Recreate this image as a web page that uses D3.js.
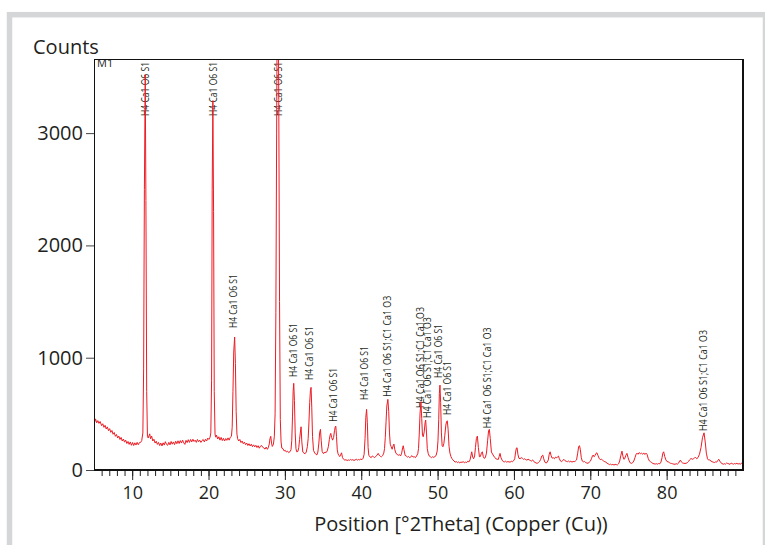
<!DOCTYPE html>
<html lang="en">

<head>
    <meta charset="UTF-8">
    <title>M1 XRD</title>
    <script src="https://cdn.jsdelivr.net/npm/d3@7/dist/d3.min.js"></script>
    <style>
        body { margin: 0; background: #fff; }
        text { font-family: 'Open Sans', sans-serif; fill: #231f20; }
    </style>
</head>

<body>
    <svg width="765" height="545" id="mainsvg"></svg>
    <script>
        // scan: position (deg 2theta) and counts
        const twoTheta = [
            5.0, 5.1, 5.2, 5.35, 5.5, 5.65, 5.8, 6.0, 6.15, 6.3, 6.45, 6.6, 6.75, 6.9, 7.05, 7.2, 7.35, 7.5, 7.65, 7.8,
            7.95, 8.1, 8.25, 8.4, 8.55, 8.7, 8.85, 9.0, 9.15, 9.3, 9.45, 9.6, 9.75, 9.9, 10.05, 10.2, 10.35, 10.5, 10.65, 10.8, 10.95,
            11.1, 11.25, 11.4, 11.5, 11.6, 11.71, 11.8, 11.9, 12.0,
            12.1, 12.2, 12.3, 12.4, 12.55, 12.7, 12.85, 13.0, 13.15, 13.3, 13.45, 13.6, 13.75, 13.9, 14.05, 14.2, 14.35, 14.5, 14.65, 14.8,
            14.95, 15.1, 15.25, 15.4, 15.55, 15.7, 15.85, 16.0, 16.15, 16.3, 16.45, 16.6, 16.75, 16.9, 17.05, 17.2, 17.35, 17.5, 17.65, 17.8,
            17.95, 18.1, 18.25, 18.4, 18.55, 18.7, 18.85, 19.0, 19.15, 19.3, 19.45, 19.6, 19.75, 19.9, 20.05, 20.2,
            20.3, 20.4, 20.48, 20.57, 20.66, 20.75, 20.85,
            20.95, 21.05, 21.2, 21.35, 21.5, 21.65, 21.8, 21.95, 22.1, 22.25, 22.4, 22.55, 22.7, 22.85, 23.0,
            23.1, 23.2, 23.3, 23.42, 23.52, 23.62, 23.72,
            23.82, 23.95, 24.1, 24.25, 24.4, 24.55, 24.7, 24.85, 25.0, 25.15, 25.3, 25.45, 25.6, 25.75, 25.9, 26.05, 26.2, 26.35, 26.5, 26.65,
            26.8, 26.95, 27.1, 27.25, 27.4, 27.55, 27.7, 27.82, 27.95, 28.05, 28.15, 28.25, 28.35, 28.5, 28.62, 28.72,
            28.82, 28.92, 29.0, 29.1, 29.2, 29.3, 29.4,
            29.5, 29.6, 29.75, 29.9, 30.05, 30.2, 30.35, 30.5, 30.65, 30.8, 30.9, 31.0, 31.08, 31.16, 31.25, 31.35, 31.45, 31.55,
            31.7, 31.82, 31.92, 32.02, 32.12, 32.22, 32.35, 32.5, 32.65, 32.8, 32.95, 33.05, 33.15, 33.25, 33.35, 33.43, 33.52, 33.62, 33.75, 33.9, 34.05, 34.2,
            34.32, 34.45, 34.55, 34.66, 34.76, 34.88, 35.0, 35.12, 35.25, 35.4, 35.55, 35.7, 35.82, 35.92, 36.01, 36.12, 36.25, 36.38, 36.5, 36.6, 36.67, 36.76, 36.86, 36.96,
            37.08, 37.2, 37.3, 37.42, 37.55, 37.7, 37.85, 38.0, 38.15, 38.3, 38.45, 38.6, 38.75, 38.9, 39.05, 39.2, 39.35, 39.5, 39.65, 39.8, 39.95, 40.1, 40.25,
            40.38, 40.5, 40.6, 40.7, 40.8, 40.9, 41.0,
            41.15, 41.3, 41.45, 41.6, 41.75, 41.9, 42.05, 42.22, 42.35, 42.5, 42.65, 42.8, 42.95,
            43.05, 43.15, 43.25, 43.35, 43.49, 43.6, 43.7, 43.8, 43.92, 44.05, 44.18, 44.28, 44.4, 44.55, 44.7, 44.85, 45.0, 45.15, 45.3, 45.42, 45.5, 45.6, 45.75, 45.9,
            46.05, 46.2, 46.35, 46.5, 46.65, 46.8, 46.95, 47.1, 47.25, 47.4,
            47.5, 47.6, 47.7, 47.82, 47.92, 48.02, 48.12, 48.25, 48.36, 48.44, 48.55, 48.65, 48.78,
            48.9, 49.05, 49.2, 49.35, 49.5, 49.65, 49.8, 49.95,
            50.05, 50.15, 50.23, 50.31, 50.4, 50.5, 50.6, 50.7, 50.82, 50.95, 51.08, 51.18, 51.27, 51.38, 51.5, 51.62, 51.75, 51.88,
            52.0, 52.15, 52.3, 52.45, 52.6, 52.75, 52.9, 53.05, 53.2, 53.35, 53.5, 53.65, 53.8, 53.95, 54.1, 54.25, 54.36, 54.47, 54.6, 54.72,
            54.85, 54.96, 55.08, 55.21, 55.34, 55.48, 55.6, 55.74, 55.86, 55.98, 56.1, 56.25, 56.4, 56.55, 56.68, 56.78, 56.9, 57.05, 57.2, 57.35,
            57.5, 57.65, 57.8, 57.95, 58.06, 58.18, 58.3, 58.45, 58.6, 58.75, 58.9, 59.05, 59.2, 59.35, 59.5, 59.65, 59.8, 59.95,
            60.1, 60.22, 60.32, 60.41, 60.52, 60.65, 60.8, 60.95, 61.1, 61.25, 61.4, 61.55, 61.7, 61.85, 62.0, 62.15, 62.3, 62.45, 62.6, 62.75,
            62.9, 63.05, 63.2, 63.35, 63.5, 63.65, 63.78, 63.9, 64.05, 64.2, 64.35, 64.5, 64.62, 64.74, 64.86, 65.0, 65.15, 65.3, 65.45, 65.6,
            65.72, 65.83, 65.95, 66.1, 66.25, 66.4, 66.55, 66.7, 66.85, 67.0, 67.15, 67.3, 67.45, 67.6, 67.75, 67.9, 68.05, 68.2, 68.35, 68.48,
            68.59, 68.7, 68.82, 68.95, 69.1, 69.25, 69.4, 69.55, 69.7, 69.85,
            70.0, 70.15, 70.28, 70.38, 70.5, 70.62, 70.75, 70.87, 71.0, 71.15, 71.3, 71.45, 71.6, 71.75, 71.9, 72.05, 72.2, 72.35, 72.5, 72.65,
            72.8, 72.95, 73.1, 73.25, 73.4, 73.55, 73.7, 73.85, 74.0, 74.15, 74.28, 74.4, 74.5, 74.65, 74.8, 74.95, 75.1, 75.25, 75.4, 75.55,
            75.7, 75.85, 76.0, 76.11, 76.25, 76.4, 76.55, 76.7, 76.85, 77.0, 77.15, 77.3, 77.43, 77.6, 77.75, 77.9, 78.05, 78.2, 78.35, 78.5,
            78.65, 78.8, 78.95, 79.1, 79.25, 79.4, 79.5, 79.61, 79.75, 79.9,
            80.05, 80.2, 80.35, 80.5, 80.65, 80.8, 80.95, 81.1, 81.25, 81.4, 81.55, 81.7, 81.8, 81.95, 82.1, 82.25, 82.4, 82.55, 82.7, 82.85,
            83.0, 83.2, 83.35, 83.5, 83.65, 83.8, 83.95, 84.1, 84.3, 84.5, 84.7, 84.9, 85.05, 85.2, 85.35, 85.5, 85.65, 85.8, 85.95, 86.1,
            86.25, 86.4, 86.55, 86.7, 86.82, 86.95, 87.1, 87.25, 87.4, 87.55, 87.7, 87.85, 88.0, 88.15, 88.3, 88.45, 88.6, 88.75, 88.9, 89.05,
            89.2, 89.35, 89.5, 89.65, 89.8, 90.0
        ];
        const counts = [
            465, 430, 455, 420, 440, 415, 432, 395, 412, 380, 398, 365, 384, 350, 368, 335, 352, 318, 334, 300,
            316, 285, 302, 272, 290, 258, 276, 248, 266, 236, 254, 228, 250, 220, 245, 218, 242, 222, 246, 225, 244,
            245, 262, 330, 900, 2500, 3520, 2400, 700, 300,
            285, 305, 322, 278, 302, 258, 274, 240, 256, 228, 246, 218, 240, 214, 242, 222, 252, 228, 220, 246,
            224, 254, 230, 250, 226, 256, 234, 260, 236, 262, 240, 266, 242, 228, 264, 244, 270, 246, 272, 250,
            274, 254, 266, 246, 272, 252, 266, 246, 262, 272, 250, 274, 258, 284, 272, 292,
            330, 800, 2500, 3290, 2300, 700, 320,
            292, 310, 276, 296, 266, 290, 262, 282, 258, 280, 264, 286, 266, 292, 300,
            380, 700, 1050, 1184, 950, 520, 320,
            278, 258, 272, 244, 258, 234, 248, 226, 240, 218, 234, 214, 230, 208, 224, 206, 220, 200, 216, 194,
            212, 218, 202, 196, 186, 204, 184, 198, 230, 280, 300, 240, 210, 230, 300, 500,
            1400, 3000, 4200, 4400, 3300, 1500, 450,
            250, 195, 190, 170, 175, 160, 168, 155, 162, 180, 260, 480, 700, 772, 620, 330, 190, 162,
            165, 200, 270, 330, 385, 250, 160, 150, 145, 160, 210, 280, 420, 600, 710, 736, 560, 300, 175, 152, 140, 135,
            160, 240, 330, 362, 260, 165, 150, 148, 160, 155, 170, 210, 270, 310, 326, 290, 266, 290, 350, 385, 391, 300, 180, 145,
            128, 120, 135, 153, 110, 95, 88, 92, 84, 90, 86, 94, 88, 92, 85, 90, 96, 88, 94, 90, 98, 92, 105,
            140, 280, 470, 540, 420, 200, 128,
            118, 110, 125, 118, 110, 122, 130, 148, 132, 122, 118, 128, 150,
            190, 290, 430, 570, 629, 520, 330, 230, 207, 185, 215, 231, 180, 148, 140, 130, 138, 125, 150, 200, 216, 180, 130, 124,
            115, 120, 110, 118, 128, 115, 118, 110, 125, 145,
            190, 320, 500, 608, 460, 310, 296, 340, 420, 445, 330, 190, 145,
            125, 118, 110, 118, 112, 120, 128, 170,
            260, 450, 680, 756, 600, 330, 215, 207, 235, 310, 400, 432, 438, 360, 210, 150, 120, 100,
            92, 80, 70, 75, 66, 72, 64, 70, 68, 74, 65, 70, 66, 78, 72, 90, 125, 162, 115, 100,
            125, 200, 280, 302, 200, 118, 120, 150, 162, 120, 104, 110, 150, 260, 350, 362, 280, 160, 142, 125,
            110, 100, 96, 94, 120, 148, 110, 88, 75, 72, 78, 70, 75, 72, 70, 78, 74, 82,
            100, 160, 195, 198, 140, 105, 100, 110, 105, 95, 100, 92, 88, 96, 90, 85, 80, 90, 75, 68,
            62, 60, 65, 75, 95, 125, 133, 100, 70, 62, 68, 90, 140, 162, 130, 105, 110, 100, 115, 108,
            118, 124, 100, 80, 75, 85, 95, 82, 78, 74, 80, 72, 78, 70, 76, 74, 80, 90, 150, 210,
            216, 180, 110, 80, 73, 76, 66, 62, 60, 68,
            78, 100, 125, 133, 118, 130, 148, 153, 130, 105, 92, 96, 88, 80, 74, 70, 60, 55, 48, 52,
            46, 50, 44, 50, 48, 45, 55, 80, 130, 168, 120, 95, 100, 130, 148, 110, 80, 62, 59, 65,
            80, 110, 140, 150, 140, 155, 145, 150, 140, 152, 138, 150, 140, 100, 80, 73, 66, 58, 55, 53,
            56, 52, 58, 55, 70, 110, 150, 162, 120, 90,
            75, 73, 66, 60, 58, 55, 52, 51, 56, 52, 60, 80, 88, 70, 62, 60, 58, 60, 65, 75,
            90, 103, 95, 100, 108, 112, 100, 110, 140, 200, 290, 331, 250, 150, 100, 88, 90, 80, 74, 70,
            66, 72, 70, 85, 96, 80, 65, 58, 51, 56, 52, 62, 58, 55, 50, 62, 56, 52, 58, 54,
            60, 52, 58, 50, 62, 56
        ];

        // phase labels: where they sit (2theta) and the count level they start from
        const labelPos = [11.71, 20.57, 29.1, 23.2, 31.07, 33.17, 36.24, 40.38, 43.32, 47.69, 48.57, 50.09, 51.19, 56.52, 84.72];
        const labelAt = [3153, 3153, 3153, 1264, 828, 801, 429, 623, 652, 552, 462, 819, 489, 371, 347];
        const labelText = [
            'H4 Ca1 O6 S1', 'H4 Ca1 O6 S1', 'H4 Ca1 O6 S1', 'H4 Ca1 O6 S1', 'H4 Ca1 O6 S1',
            'H4 Ca1 O6 S1', 'H4 Ca1 O6 S1', 'H4 Ca1 O6 S1', 'H4 Ca1 O6 S1;C1 Ca1 O3', 'H4 Ca1 O6 S1;C1 Ca1 O3',
            'H4 Ca1 O6 S1;C1 Ca1 O3', 'H4 Ca1 O6 S1', 'H4 Ca1 O6 S1', 'H4 Ca1 O6 S1;C1 Ca1 O3', 'H4 Ca1 O6 S1;C1 Ca1 O3'
        ];

        const yTicks = [0, 1000, 2000, 3000];
        const xTicks = [10, 20, 30, 40, 50, 60, 70, 80];
        const xMinor = d3.range(6, 90);

        if (twoTheta.length !== counts.length) console.warn('length mismatch', twoTheta.length, counts.length);

        const svg = d3.select('#mainsvg');
        const width = +svg.attr('width');
        const height = +svg.attr('height');
        const margin = { top: 59, right: 22, bottom: 75, left: 94 };
        const innerWidth = width - margin.left - margin.right;
        const innerHeight = height - margin.top - margin.bottom;

        // grey outer frame
        svg.append('rect')
            .attr('x', 9.5).attr('y', 14.7)
            .attr('width', 756).attr('height', 600)
            .attr('fill', 'none')
            .attr('stroke', '#d5d6d8')
            .attr('stroke-width', 5.5);

        svg.append('text').text('Counts')
            .attr('x', 33).attr('y', 54)
            .attr('font-size', '20px');

        const g = svg.append('g')
            .attr('transform', `translate(${margin.left},${margin.top})`);

        const x = d3.scaleLinear().domain([5, 90]).range([0, innerWidth]);
        const y = d3.scaleLinear().domain([0, 3660]).range([innerHeight, 0]);

        g.append('clipPath').attr('id', 'plotclip')
            .append('rect').attr('width', innerWidth).attr('height', innerHeight);

        // axes
        const yAxis = d3.axisLeft(y).tickValues(yTicks).tickSize(8).tickPadding(3).tickFormat(d3.format('d'));
        const yg = g.append('g').call(yAxis);
        yg.select('.domain').remove();
        yg.selectAll('line').attr('stroke', '#444');
        yg.selectAll('text').attr('font-size', '20px').attr('font-family', null).attr('fill', '#231f20');

        const minorAxis = d3.axisBottom(x).tickValues(xMinor).tickSize(6).tickFormat('');
        const mg = g.append('g').attr('transform', `translate(0,${innerHeight})`).call(minorAxis);
        mg.select('.domain').remove();
        mg.selectAll('line').attr('stroke', '#222');

        const xAxis = d3.axisBottom(x).tickValues(xTicks).tickSize(10).tickPadding(6);
        const xg = g.append('g').attr('transform', `translate(0,${innerHeight})`).call(xAxis);
        xg.select('.domain').remove();
        xg.selectAll('line').attr('stroke', '#222');
        xg.selectAll('text').attr('font-size', '18px').attr('font-family', null).attr('fill', '#231f20');

        svg.append('text').text('Position [°2Theta] (Copper (Cu))')
            .attr('x', 461).attr('y', 531)
            .attr('text-anchor', 'middle')
            .attr('font-size', '20px');

        // peak labels, squeezed to the narrow face of the original
        g.selectAll('.plabel').data(labelText).enter()
            .append('text')
            .attr('class', 'plabel')
            .attr('transform', (d, i) => `translate(${x(labelPos[i])},${y(labelAt[i])}) rotate(-90)`)
            .attr('dy', '0.35em')
            .attr('font-family', 'Roboto, sans-serif')
            .attr('font-size', '11.5px')
            .attr('fill', '#000')
            .attr('textLength', d => d.length > 14 ? 101 : 54)
            .attr('lengthAdjust', 'spacingAndGlyphs')
            .text(d => d);

        const line = d3.line()
            .x(i => x(twoTheta[i]))
            .y(i => y(counts[i]));

        g.append('path')
            .datum(d3.range(twoTheta.length))
            .attr('clip-path', 'url(#plotclip)')
            .attr('fill', 'none')
            .attr('stroke', '#ec1c24')
            .attr('stroke-width', 1)
            .attr('stroke-linejoin', 'round')
            .attr('d', line);

        g.append('text').text('M1')
            .attr('x', 3).attr('y', 8)
            .attr('font-size', '11px');

        // plot frame
        g.append('rect')
            .attr('x', 0.5).attr('y', 0.5)
            .attr('width', innerWidth - 1).attr('height', innerHeight - 1)
            .attr('fill', 'none')
            .attr('stroke', '#111')
            .attr('stroke-width', 1);
        g.append('line')
            .attr('x1', innerWidth).attr('x2', innerWidth)
            .attr('y1', 0).attr('y2', innerHeight + 1)
            .attr('stroke', '#111').attr('stroke-width', 2);
        g.append('line')
            .attr('x1', 0).attr('x2', innerWidth + 1)
            .attr('y1', innerHeight).attr('y2', innerHeight)
            .attr('stroke', '#111').attr('stroke-width', 2);
    </script>
</body>

</html>
